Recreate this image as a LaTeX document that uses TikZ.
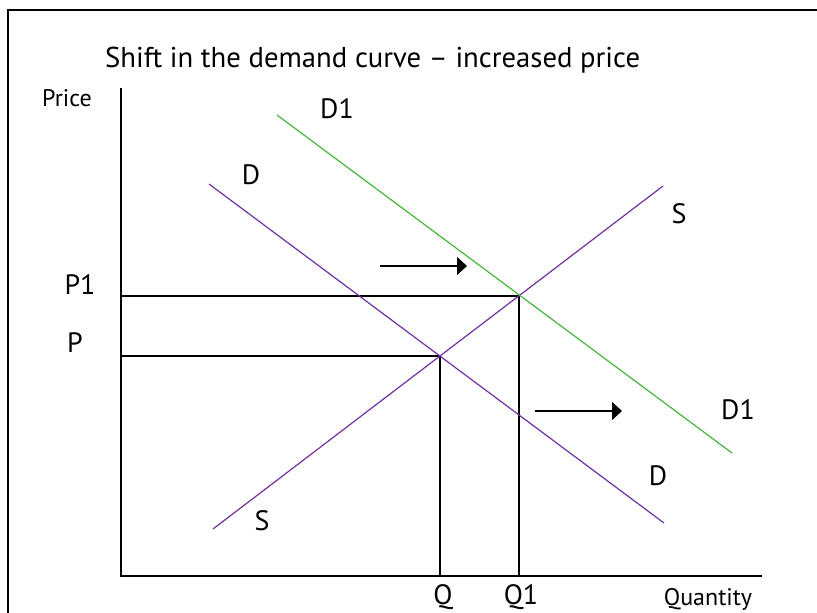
\documentclass[tikz,border=0pt]{standalone}
\usepackage{fontspec}
\setmainfont{PT Sans}
\usetikzlibrary{arrows.meta}
\definecolor{dpurple}{RGB}{112,48,160}
\definecolor{dgreen}{RGB}{70,180,60}
\begin{document}
\begin{tikzpicture}[x=1pt, y=-1pt, every node/.style={inner sep=0pt, font=\fontsize{28}{30}\selectfont},
	small/.style={font=\fontsize{24}{26}\selectfont}, axis/.style={line width=1.4pt},
	guide/.style={line width=1.2pt}, demand/.style={line width=1.2pt, dpurple},
	newdemand/.style={line width=1.2pt, dgreen}, shiftarrow/.style={line width=1.2pt, -{Triangle[length=10pt,width=18pt]}}]

		\useasboundingbox (0,0) rectangle (817,613);
		\draw[line width=2pt] (8,613) -- (8,10) -- (817,10);
		\node[anchor=base west, font=\fontsize{28.7}{30}\selectfont] (title) at (105,67) {Shift in the demand curve – increased price};

		% axes and points
		\coordinate (o) at (121,576);
		\coordinate (ytop) at (121,88);
		\coordinate (xend) at (762,576);
		\coordinate (e) at (440,356);
		\coordinate (e1) at (519,296);
		\coordinate (pa) at (121,356);
		\coordinate (p1a) at (121,296);
		\coordinate (qa) at (440,576);
		\coordinate (q1a) at (519,576);
		\draw[axis] (ytop) -- (o) -- (xend);
		\draw[guide] (p1a) -- (e1) -- (q1a);
		\draw[guide] (pa) -- (e) -- (qa);

		% curves
		\coordinate (s0) at (213,529);
		\coordinate (s1) at (663,186);
		\coordinate (d0) at (209,184);
		\coordinate (d1) at (664,523);
		\coordinate (n0) at (277,115);
		\coordinate (n1) at (732,453);
		\draw[demand] (s0) -- (s1);
		\draw[demand] (d0) -- (d1);
		\draw[newdemand] (n0) -- (n1);

		% shift arrows
		\coordinate (a0) at (380,266);
		\coordinate (a1) at (467,266);
		\coordinate (b0) at (535,411);
		\coordinate (b1) at (622,411);
		\draw[shiftarrow] (a0) -- (a1);
		\draw[shiftarrow] (b0) -- (b1);

		% labels
		\node[small] (price) at (67,98) {Price};
		\node[small, anchor=base] (quantity) at (708,605) {Quantity};
		\node (lp1) at (80,285) {P1};
		\node (lp) at (75,343) {P};
		\node[anchor=base] (lq) at (443,604) {Q};
		\node[anchor=base] (lq1) at (521,604) {Q1};
		\node (ld1top) at (337,109) {D1};
		\node (ldtop) at (251,175) {D};
		\node (lstop) at (679,214) {S};
		\node (ld1) at (738,410) {D1};
		\node (ld) at (658,476) {D};
		\node (ls) at (262,521) {S};
	\end{tikzpicture}
\end{document}
